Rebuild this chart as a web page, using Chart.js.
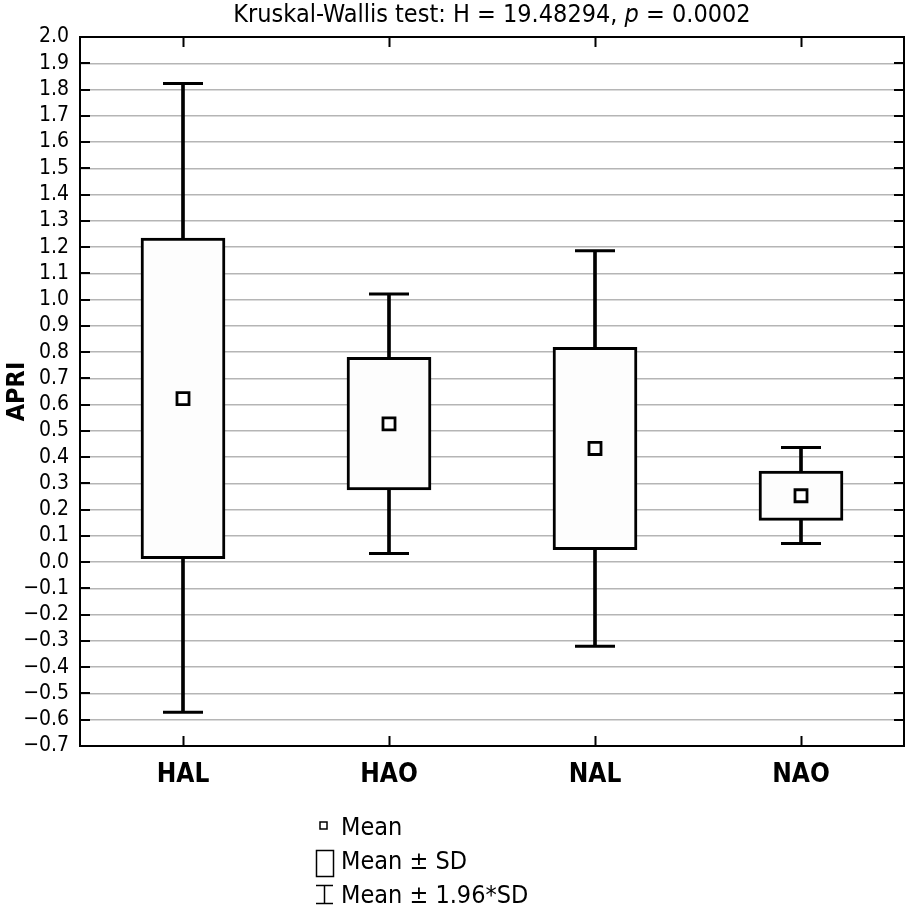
<!DOCTYPE html>
<html>
<head>
<meta charset="utf-8">
<script src="https://cdn.jsdelivr.net/npm/chart.js@4.4.1/dist/chart.umd.min.js"></script>
<style>
  html, body { margin: 0; padding: 0; background: #ffffff; }
  #wrap { width: 907px; height: 914px; }
</style>
</head>
<body>
<div id="wrap"><canvas id="c" width="907" height="914"></canvas></div>
<script>
// ---- data ----
const categories = ['HAL', 'HAO', 'NAL', 'NAO'];
const means      = [0.623, 0.527, 0.433, 0.253];
const sdLow      = [0.013, 0.275, 0.048, 0.159];
const sdHigh     = [1.234, 0.780, 0.818, 0.347];
const ciLow      = [-0.571, 0.033, -0.320, 0.071];
const ciHigh     = [1.823, 1.021, 1.186, 0.437];
const yMin = -0.7, yMax = 2.0, yStep = 0.1;
const titleParts = ['Kruskal-Wallis test: H = 19.48294, ', 'p', ' = 0.0002'];
const yTitle = 'APRI';
const legendItems = ['Mean', 'Mean \u00b1 SD', 'Mean \u00b1 1.96*SD'];

const FONT = "'Liberation Sans Narrow', 'DejaVu Sans Condensed', sans-serif";
Chart.defaults.font.family = FONT;
Chart.defaults.color = '#000';

const framePlugin = {
  id: 'frame',
  afterDatasetsDraw(chart) {
    const ctx = chart.ctx, a = chart.chartArea;
    const ys = chart.scales.y, xs = chart.scales.x;
    ctx.save();
    ctx.strokeStyle = '#000';
    ctx.lineWidth = 2;
    ctx.beginPath();
    ys.ticks.forEach(t => {
      const y = Math.round(ys.getPixelForValue(t.value));
      ctx.moveTo(a.left, y); ctx.lineTo(a.left + 10, y);
      ctx.moveTo(a.right - 10, y); ctx.lineTo(a.right, y);
    });
    xs.ticks.forEach((t, i) => {
      const x = Math.round(xs.getPixelForTick(i)) + 0.5;
      ctx.moveTo(x, a.bottom); ctx.lineTo(x, a.bottom - 10);
      ctx.moveTo(x, a.top); ctx.lineTo(x, a.top + 10);
    });
    ctx.stroke();
    ctx.strokeRect(a.left, a.top, a.right - a.left, a.bottom - a.top);
    ctx.restore();
  },
  afterDraw(chart) {
    const ctx = chart.ctx, a = chart.chartArea;
    ctx.save();
    ctx.fillStyle = '#000';
    // title with italic p
    const normal = '25px ' + FONT, italic = 'italic 25px ' + FONT;
    ctx.font = normal;
    const w0 = ctx.measureText(titleParts[0]).width;
    const w2 = ctx.measureText(titleParts[2]).width;
    ctx.font = italic;
    const w1 = ctx.measureText(titleParts[1]).width;
    let x = (a.left + a.right) / 2 - (w0 + w1 + w2) / 2;
    const ty = 15;
    ctx.textBaseline = 'middle';
    ctx.textAlign = 'left';
    ctx.font = normal; ctx.fillText(titleParts[0], x, ty); x += w0;
    ctx.font = italic; ctx.fillText(titleParts[1], x, ty); x += w1;
    ctx.font = normal; ctx.fillText(titleParts[2], x, ty);

    // legend
    ctx.strokeStyle = '#000';
    ctx.lineWidth = 1.5;
    ctx.strokeRect(320, 822, 7, 7);
    ctx.strokeRect(316.5, 850.5, 17, 26);
    ctx.beginPath();
    ctx.moveTo(316, 885.5); ctx.lineTo(333, 885.5);
    ctx.moveTo(316, 903.5); ctx.lineTo(333, 903.5);
    ctx.moveTo(324.5, 885.5); ctx.lineTo(324.5, 903.5);
    ctx.stroke();
    ctx.font = '25px ' + FONT;
    ctx.fillText(legendItems[0], 341, 828);
    ctx.fillText(legendItems[1], 341, 862);
    ctx.fillText(legendItems[2], 341, 896);
    ctx.restore();
  }
};

new Chart(document.getElementById('c'), {
  type: 'bar',
  data: {
    labels: categories,
    datasets: [
      {
        type: 'line', data: means, showLine: false,
        pointStyle: 'rect', pointRadius: 8.5, pointBorderWidth: 2.8,
        pointBackgroundColor: '#fff', pointBorderColor: '#000', order: 1
      },
      {
        type: 'line', data: ciHigh, showLine: false,
        pointStyle: 'line', pointRadius: 20, pointBorderWidth: 3,
        pointBorderColor: '#000', order: 2
      },
      {
        type: 'line', data: ciLow, showLine: false,
        pointStyle: 'line', pointRadius: 20, pointBorderWidth: 3,
        pointBorderColor: '#000', order: 2
      },
      {
        type: 'bar', data: categories.map((_, i) => [sdLow[i], sdHigh[i]]),
        backgroundColor: '#fdfdfd', borderColor: '#000', borderWidth: 3,
        borderSkipped: false, barThickness: 84, grouped: false, order: 3
      },
      {
        type: 'bar', data: categories.map((_, i) => [ciLow[i], ciHigh[i]]),
        backgroundColor: '#000', borderWidth: 0,
        barThickness: 3, grouped: false, order: 4
      }
    ]
  },
  options: {
    responsive: false,
    devicePixelRatio: 1,
    animation: false,
    events: [],
    layout: { autoPadding: false, padding: { top: 37, right: 3, left: 0, bottom: 0 } },
    plugins: { legend: { display: false }, tooltip: { enabled: false }, title: { display: false } },
    scales: {
      x: {
        grid: { display: false },
        border: { display: false },
        ticks: { font: { size: 26, weight: 'bold' }, padding: 6, color: '#000' },
        afterFit(s) { s.height = 168; s.paddingLeft = 0; s.paddingRight = 0; }
      },
      y: {
        min: yMin, max: yMax,
        grid: { color: '#b5b5b5', lineWidth: 1.5, drawTicks: false },
        border: { display: false },
        ticks: {
          stepSize: yStep, autoSkip: false, padding: 11, color: '#000',
          font: { size: 21 },
          callback(v) {
            if (Math.abs(v) < 1e-9) return '0.0';
            return Number(v).toFixed(1).replace('-', '\u2212');
          }
        },
        title: { display: true, text: yTitle, font: { size: 25, weight: 'bold' }, padding: 2, color: '#000' },
        afterFit(s) { s.width = 80; s.paddingTop = 0; s.paddingBottom = 0; }
      }
    }
  },
  plugins: [framePlugin]
});
</script>
</body>
</html>
